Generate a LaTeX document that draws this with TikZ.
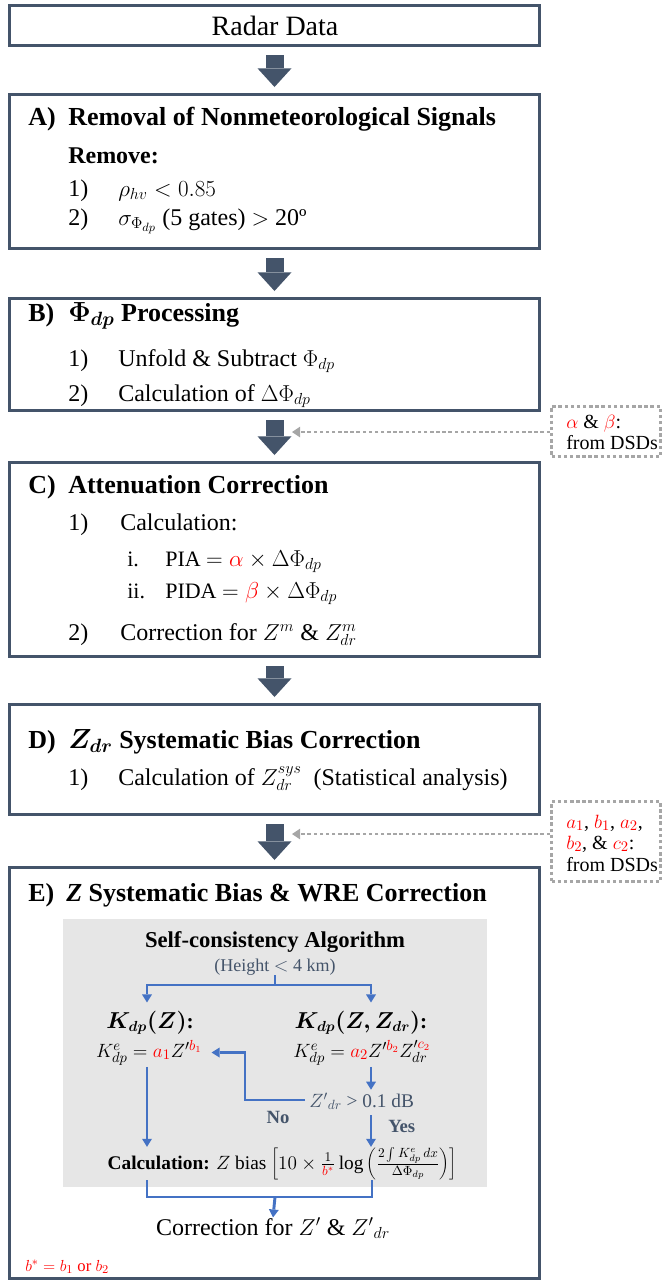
\documentclass[tikz,border=0pt]{standalone}
\usepackage{fontspec}
\setmainfont{Liberation Serif}
\usepackage{bm}
\usetikzlibrary{arrows.meta,fit,calc}
\definecolor{slate}{HTML}{44546A}
\definecolor{bline}{HTML}{4472C4}
\definecolor{gfill}{HTML}{E6E6E6}
\definecolor{dgrey}{HTML}{A6A6A6}
\definecolor{rd}{HTML}{FF0000}
\newcommand{\redc}[1]{\textcolor{rd}{#1}}
\begin{document}
\begin{tikzpicture}[x=0.75pt,y=-0.75pt,
  frame/.style={draw=slate, line width=2.25pt, inner sep=0pt},
  ttl/.style={font=\fontsize{19.5}{23}\selectfont\bfseries, anchor=base west, inner sep=0pt},
  itm/.style={font=\fontsize{18}{22}\selectfont, anchor=base west, inner sep=0pt},
  itb/.style={font=\fontsize{18}{22}\selectfont\bfseries, anchor=base west, inner sep=0pt},
  subit/.style={font=\fontsize{16.5}{20}\selectfont, anchor=base west, inner sep=0pt},
  bigarr/.style={slate, line width=13.5pt, -{Triangle[width=25.5pt,length=14pt,line width=0pt]}},
  dotbox/.style={draw=dgrey, line width=2.2pt, dash pattern=on 2.6pt off 2pt, inner sep=0pt},
  dotarr/.style={dgrey, line width=2.2pt, dash pattern=on 2.6pt off 2pt, -{Triangle[width=8pt,length=6pt,line width=0pt]}},
  dsd/.style={font=\fontsize{15}{18}\selectfont, anchor=base west, inner sep=0pt},
  bl/.style={bline, line width=2.2pt},
  bla/.style={bl, -{Triangle[width=7.5pt,length=6pt,line width=0pt]}},
  ktl/.style={font=\fontsize{16}{19}\selectfont, anchor=base, inner xsep=0pt, inner ysep=6pt},
  eqn/.style={font=\fontsize{15}{18}\selectfont, anchor=base, inner sep=0pt}
]
\useasboundingbox (0,0) rectangle (665,1282);

% Radar data
\node[frame, fit={(9.5,5.5)(539.5,45.5)}] (radar) {};
\node[font=\fontsize{21}{25}\selectfont, anchor=base, inner sep=0pt] (radart) at (275,35) {Radar Data};

% A
\node[frame, fit={(9.5,94.5)(539.5,248.5)}] (A) {};
\node[ttl] (Al) at (28,125.5) {A)};
\node[ttl] (At) at (68,125.5) {Removal of Nonmeteorological Signals};
\node[itb] (Ar) at (68,163) {Remove:};
\node[itm] (A1n) at (68,196) {1)};
\node[itm] (A1) at (118,196) {$\rho_{hv} < 0.85$};
\node[itm] (A2n) at (68,225) {2)};
\node[itm] (A2) at (118,225) {$\sigma_{\Phi_{dp}}$ (5 gates) $>$ 20º};

% B
\node[frame, fit={(9.5,298.5)(539.5,410.5)}] (B) {};
\node[ttl] (Bl) at (28,321.5) {B)};
\node[ttl] (Bt) at (68,321.5) {$\bm{\Phi_{dp}}$ Processing};
\node[itm] (B1n) at (68,366) {1)};
\node[itm] (B1) at (118,366) {Unfold \& Subtract $\Phi_{dp}$};
\node[itm] (B2n) at (68,401) {2)};
\node[itm] (B2) at (118,401) {Calculation of $\Delta\Phi_{dp}$};

% C
\node[frame, fit={(9.5,462.5)(539.5,656.5)}] (C) {};
\node[ttl] (Cl) at (28,493.5) {C)};
\node[ttl] (Ct) at (68,493.5) {Attenuation Correction};
\node[itm] (C1n) at (68,530) {1)};
\node[itm] (C1) at (120,530) {Calculation:};
\node[subit] (Cin) at (127,566) {i.};
\node[subit] (Ci) at (165,566) {PIA $=\redc{\alpha}\times\Delta\Phi_{dp}$};
\node[subit] (Ciin) at (127,598) {ii.};
\node[subit] (Cii) at (165,598) {PIDA $=\redc{\beta}\times\Delta\Phi_{dp}$};
\node[itm] (C2n) at (68,640) {2)};
\node[itm] (C2) at (120,640) {Correction for $Z^{m}$ \& $Z^{m}_{dr}$};

% D
\node[frame, fit={(9.5,704.5)(539.5,814.5)}] (D) {};
\node[ttl] (Dl) at (28,748.5) {D)};
\node[ttl] (Dt) at (68,748.5) {$\bm{Z_{dr}}$ Systematic Bias Correction};
\node[itm] (D1n) at (68,785) {1)};
\node[itm] (D1) at (118,785) {Calculation of $Z^{sys}_{dr}$\ \ (Statistical analysis)};

% E
\node[frame, fit={(9.5,867.5)(539.5,1278.5)}] (E) {};
\node[ttl] (El) at (28,901.5) {E)};
\node[ttl] (Et) at (66,901.5) {\textit{Z} Systematic Bias \& WRE Correction};
\node[fill=gfill, inner sep=0pt, fit={(63,919)(487,1187)}] (G) {};
\node[font=\fontsize{17}{20}\selectfont\bfseries, anchor=base, inner sep=0pt] (sca) at (275,947) {Self-consistency Algorithm};
\node[font=\fontsize{13.5}{16}\selectfont, text=slate, anchor=base, inner sep=0pt] (height) at (275,971) {(Height $<$ 4 km)};
\node[ktl] (kz) at (150,1028) {$\bm{K_{dp}(Z)}$\textbf{:}};
\node[ktl] (kzz) at (361,1028) {$\bm{K_{dp}(Z,Z_{dr})}$\textbf{:}};
\node[eqn] (eqL) at (149,1057) {$K^{e}_{dp}=\redc{a_1}Z^{\prime\redc{b_1}}$};
\node[eqn] (eqR) at (362,1057) {$K^{e}_{dp}=\redc{a_2}Z^{\prime\redc{b_2}}Z^{\prime\redc{c_2}}_{dr}$};
\node[font=\fontsize{14.5}{17}\selectfont, text=slate, anchor=base west, inner sep=0pt] (cond) at (309,1107) {$Z^{\prime}{}_{dr}$ > 0.1 dB};
\node[font=\fontsize{14}{17}\selectfont\bfseries, text=slate, anchor=base, inner sep=0pt] (no) at (278,1123) {No};
\node[font=\fontsize{14}{17}\selectfont\bfseries, text=slate, anchor=base west, inner sep=0pt] (yes) at (388,1132) {Yes};
\node[font=\fontsize{14.5}{17}\selectfont, anchor=base, inner sep=0pt] (calc) at (282,1169) {\textbf{Calculation:} $Z$ bias $\left[10\times\frac{1}{\redc{b^{*}}}\log\left(\frac{2\int K^{e}_{dp}\,dx}{\Delta\Phi_{dp}}\right)\right]$};
\node[font=\fontsize{18}{22}\selectfont, anchor=base, inner sep=0pt] (corr) at (273,1235) {Correction for $Z^{\prime}$ \& $Z^{\prime}{}_{dr}$};
\node[font=\fontsize{12.5}{15}\selectfont, text=rd, anchor=base west, inner sep=0pt] (bstar) at (25,1271) {$b^{*}=b_1$ or $b_2$};

% E connectors
\coordinate (split) at (275,985);
\coordinate (colL) at (147,985);
\coordinate (colR) at (371,985);
\draw[bl] (height.south) -- (split);
\draw[bla] (split) -- (colL) -- (colL |- kz.north);
\draw[bla] (split) -- (colR) -- (colR |- kzz.north);
\draw[bla, shorten <=1pt] (colL |- eqL.south) -- (colL |- calc.north);
\draw[bla, shorten <=1pt, shorten >=2pt] (colR |- eqR.south) -- (colR |- cond.north);
\draw[bla, shorten <=4pt] (colR |- cond.south) -- (colR |- calc.north);
\coordinate (ret) at (245,1100);
\draw[bla, shorten <=3pt, shorten >=7pt] (cond.west |- ret) -- (ret) -- (ret |- eqL.east) -- (eqL.east);
\coordinate (bL) at (147,1197);
\coordinate (bR) at (372,1197);
\coordinate (bM) at (275,1197);
\draw[bl] (bL |- calc.south) -- (bL) -- (bR) -- (bR |- calc.south);
\draw[bla] (bM) -- (corr.north);

% block arrows
\draw[bigarr] ($(radar.south)+(0,8)$) -- ($(A.north)+(0,-6)$);
\draw[bigarr] ($(A.south)+(0,8)$) -- ($(B.north)+(0,-6)$);
\draw[bigarr] ($(B.south)+(0,8)$) -- ($(C.north)+(0,-6)$);
\draw[bigarr] ($(C.south)+(0,8)$) -- ($(D.north)+(0,-6)$);
\draw[bigarr] ($(D.south)+(0,8)$) -- ($(E.north)+(0,-6)$);

% DSD boxes
\node[dotbox, fit={(551.5,406.5)(660.5,456.5)}] (dsd1) {};
\node[dsd] (dsd1a) at (566,428) {$\redc{\alpha}$ \& $\redc{\beta}$:};
\node[dsd] (dsd1b) at (566,449) {from DSDs};
\coordinate (t3) at (292,432);
\draw[dotarr] (dsd1.west |- t3) -- (t3);

\node[dotbox, fit={(551.5,801.5)(660.5,881.5)}] (dsd2) {};
\node[dsd] (dsd2a) at (566,828) {$\redc{a_1}$, $\redc{b_1}$, $\redc{a_2}$,};
\node[dsd] (dsd2b) at (566,849) {$\redc{b_2}$, \& $\redc{c_2}$:};
\node[dsd] (dsd2c) at (566,871) {from DSDs};
\coordinate (t5) at (292,834);
\draw[dotarr] (dsd2.west |- t5) -- (t5);
\end{tikzpicture}
\end{document}
